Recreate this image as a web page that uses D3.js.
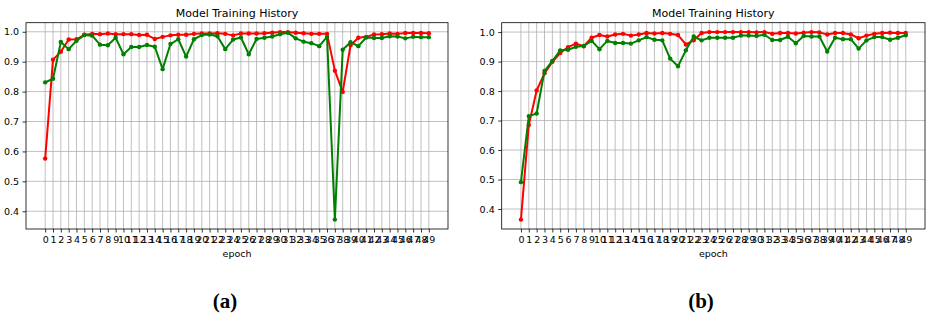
<!DOCTYPE html>
<html><head><meta charset="utf-8">
<script src="https://cdn.jsdelivr.net/npm/d3@7/dist/d3.min.js"></script>
<style>body{margin:0;background:#fff}svg{display:block}</style>
</head><body>
<svg id="chart" width="931" height="322"></svg>
<script>
const epochs = [0,1,2,3,4,5,6,7,8,9,10,11,12,13,14,15,16,17,18,19,20,21,22,23,24,25,26,27,28,29,30,31,32,33,34,35,36,37,38,39,40,41,42,43,44,45,46,47,48,49];
const yTicks = [0.4,0.5,0.6,0.7,0.8,0.9,1.0];
const titleText = "Model Training History";
const xLabel = "epoch";
const captions = ["(a)", "(b)"];

const trainA = [0.576,0.907,0.933,0.974,0.975,0.990,0.993,0.992,0.994,0.992,
  0.992,0.992,0.989,0.990,0.976,0.983,0.988,0.990,0.990,0.993,
  0.994,0.994,0.995,0.993,0.988,0.994,0.994,0.994,0.995,0.997,
  0.999,0.999,0.997,0.995,0.993,0.993,0.993,0.870,0.799,0.955,
  0.980,0.983,0.991,0.992,0.994,0.993,0.996,0.996,0.996,0.995];
const valA = [0.831,0.843,0.966,0.942,0.970,0.989,0.987,0.957,0.955,0.980,
  0.925,0.949,0.949,0.956,0.950,0.875,0.959,0.975,0.917,0.975,
  0.989,0.991,0.985,0.942,0.974,0.981,0.925,0.976,0.980,0.984,
  0.992,0.997,0.978,0.967,0.962,0.952,0.983,0.372,0.940,0.965,
  0.952,0.981,0.979,0.979,0.985,0.984,0.978,0.983,0.982,0.982];
const trainB = [0.364,0.685,0.802,0.860,0.899,0.929,0.949,0.961,0.952,0.981,
  0.990,0.985,0.992,0.994,0.988,0.992,0.997,0.995,0.997,0.994,
  0.990,0.958,0.972,0.997,1.000,1.000,1.000,1.000,1.000,1.000,
  0.999,1.000,0.994,0.997,0.997,0.995,0.998,1.000,0.999,0.992,
  0.997,0.997,0.992,0.979,0.988,0.994,0.997,0.998,0.997,0.997];
const valB = [0.491,0.715,0.724,0.868,0.902,0.938,0.940,0.950,0.953,0.970,
  0.942,0.970,0.963,0.963,0.961,0.972,0.983,0.974,0.972,0.910,
  0.884,0.938,0.985,0.972,0.981,0.981,0.981,0.981,0.988,0.988,
  0.987,0.991,0.973,0.973,0.984,0.962,0.987,0.985,0.985,0.934,
  0.981,0.976,0.976,0.944,0.972,0.983,0.983,0.974,0.981,0.989];

const panels = [
  {left: 26, right: 448, top: 22.7, bottom: 229, train: trainA, val: valA, caption: captions[0], capX: 225},
  {left: 501.7, right: 925, top: 22.7, bottom: 229, train: trainB, val: valB, caption: captions[1], capX: 701}
];

const svg = d3.select("#chart");
const font = "'DejaVu Sans', sans-serif";

panels.forEach(p => {
  const xr = d3.extent(epochs), xm = (xr[1]-xr[0])*0.05;
  const all = p.train.concat(p.val);
  const yr = d3.extent(all), ym = (yr[1]-yr[0])*0.05;
  const x = d3.scaleLinear().domain([xr[0]-xm, xr[1]+xm]).range([p.left, p.right]);
  const y = d3.scaleLinear().domain([yr[0]-ym, yr[1]+ym]).range([p.bottom, p.top]);
  const g = svg.append("g");

  // grid
  g.append("g").selectAll("line").data(epochs).join("line")
    .attr("x1", d => x(d)).attr("x2", d => x(d))
    .attr("y1", p.top).attr("y2", p.bottom)
    .attr("stroke", "#b0b0b0").attr("stroke-width", 0.8);
  g.append("g").selectAll("line").data(yTicks).join("line")
    .attr("x1", p.left).attr("x2", p.right)
    .attr("y1", d => y(d)).attr("y2", d => y(d))
    .attr("stroke", "#b0b0b0").attr("stroke-width", 0.8);

  // axes
  const xa = g.append("g").attr("transform", `translate(0,${p.bottom})`)
    .call(d3.axisBottom(x).tickValues(epochs).tickFormat(d3.format("d")).tickSize(3.5).tickPadding(3.5));
  const ya = g.append("g").attr("transform", `translate(${p.left},0)`)
    .call(d3.axisLeft(y).tickValues(yTicks).tickFormat(d3.format(".1f")).tickSize(3.5).tickPadding(3.5));
  [xa, ya].forEach(a => {
    a.select(".domain").remove();
    a.selectAll("line").attr("stroke", "#000").attr("stroke-width", 0.8);
    a.selectAll("text").attr("font-family", font).attr("font-size", 9.5).attr("fill", "#000");
  });

  // frame
  g.append("rect").attr("x", p.left).attr("y", p.top)
    .attr("width", p.right - p.left).attr("height", p.bottom - p.top)
    .attr("fill", "none").attr("stroke", "#000").attr("stroke-width", 0.8);

  // series
  const line = d3.line().x((d, i) => x(epochs[i])).y(d => y(d));
  [[p.train, "#ff0000"], [p.val, "#008000"]].forEach(([s, c]) => {
    g.append("path").datum(s).attr("d", line).attr("fill", "none")
      .attr("stroke", c).attr("stroke-width", 2).attr("stroke-linejoin", "round");
    g.append("g").selectAll("circle").data(s).join("circle")
      .attr("cx", (d, i) => x(epochs[i])).attr("cy", d => y(d)).attr("r", 2.2).attr("fill", c);
  });

  // titles
  const cx = (p.left + p.right) / 2;
  g.append("text").attr("x", cx).attr("y", 17).attr("text-anchor", "middle")
    .attr("font-family", font).attr("font-size", 11).attr("fill", "#000").text(titleText);
  g.append("text").attr("x", cx).attr("y", 257).attr("text-anchor", "middle")
    .attr("font-family", font).attr("font-size", 9.5).attr("fill", "#000").text(xLabel);
  g.append("text").attr("x", p.capX).attr("y", 308).attr("text-anchor", "middle")
    .attr("font-family", "'Liberation Serif', serif").attr("font-weight", "bold")
    .attr("font-size", 21).attr("fill", "#000").text(p.caption);
});
</script>
</body></html>
